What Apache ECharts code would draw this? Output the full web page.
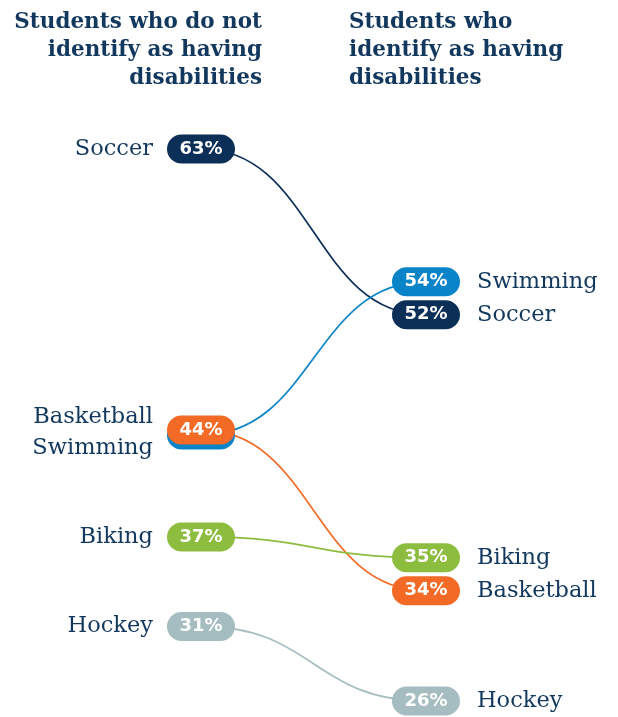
<!DOCTYPE html>
<html>
<head>
<meta charset="utf-8">
<script src="https://cdn.jsdelivr.net/npm/echarts@6/dist/echarts.min.js"></script>
<style>
  html, body { margin: 0; padding: 0; background: #ffffff; }
  #chart { width: 618px; height: 717px; }
</style>
</head>
<body>
<div id="chart"></div>
<script>
// Share of students taking part in each sport, by disability status (%)
const sports = ['Soccer', 'Basketball', 'Swimming', 'Biking', 'Hockey'];
const withoutDisability = [63, 44, 44, 37, 31];
const withDisability = [52, 34, 54, 35, 26];
const columnTitles = [
  'Students who do not\nidentify as having\ndisabilities',
  'Students who\nidentify as having\ndisabilities'
];

const sportColors = {
  Soccer: '#0c2f57',
  Swimming: '#0a84c8',
  Basketball: '#f26a25',
  Biking: '#8dbd3f',
  Hockey: '#a5bdc1'
};
const TEXT_COLOR = '#12385e';
const LABEL_FONT = '"DejaVu Serif", serif';
const PILL_FONT = '"DejaVu Sans", sans-serif';
const PILL_W = 68, PILL_H = 29, MIN_GAP = 33, TIE_SHIFT = 5;

// Place one column of nodes: tied values share a node, crowded nodes are pushed apart.
function layoutColumn(values, api, xVal) {
  const groups = [];
  values.forEach((v, i) => {
    let g = groups.find(q => q.value === v);
    if (!g) {
      const c = api.coord([xVal, v]);
      g = { value: v, members: [], x: c[0], y: c[1] };
      groups.push(g);
    }
    g.members.push(i);
  });
  groups.sort((a, b) => a.y - b.y);
  for (let iter = 0; iter < 30; iter++) {
    let moved = false;
    for (let k = 1; k < groups.length; k++) {
      const a = groups[k - 1], b = groups[k];
      const gap = b.y - a.y;
      if (gap < MIN_GAP - 0.01) {
        const d = (MIN_GAP - gap) / 2;
        a.y -= d; b.y += d; moved = true;
      }
    }
    if (!moved) break;
  }
  const pos = [];
  groups.forEach(g => {
    const n = g.members.length;
    g.members.forEach((m, j) => {
      pos[m] = { x: g.x, y: g.y + (j - (n - 1) / 2) * TIE_SHIFT, rank: j, group: g };
    });
  });
  return pos;
}

function columns(api) {
  return {
    left: layoutColumn(withoutDisability, api, 0),
    right: layoutColumn(withDisability, api, 1)
  };
}

function renderLink(params, api) {
  const i = params.dataIndex;
  const cols = columns(api);
  const a = cols.left[i], b = cols.right[i];
  const mx = (a.x + b.x) / 2;
  return {
    type: 'bezierCurve',
    shape: { x1: a.x, y1: a.y, x2: b.x, y2: b.y, cpx1: mx, cpy1: a.y, cpx2: mx, cpy2: b.y },
    style: { stroke: sportColors[sports[i]], lineWidth: 1.7, fill: null }
  };
}

// A rounded value badge; stacked badges of tied values sit behind the first one.
function pill(p, color, value) {
  const el = {
    type: 'rect',
    z2: 20 - p.rank * 10,
    shape: { x: p.x - PILL_W / 2, y: p.y - PILL_H / 2, width: PILL_W, height: PILL_H, r: PILL_H / 2 },
    style: { fill: color }
  };
  if (p.rank === 0) {
    el.textContent = {
      style: { text: value + '%', fill: '#ffffff', font: 'bold 18px ' + PILL_FONT },
      z2: 21
    };
    el.textConfig = { position: 'inside' };
  }
  return el;
}

function sideLabel(p, side) {
  const names = p.group.members.map(m => sports[m]).join('\n');
  return {
    type: 'text',
    x: side === 'left' ? p.x - PILL_W / 2 - 14 : p.x + PILL_W / 2 + 17,
    y: p.group.y,
    style: {
      text: names,
      fill: TEXT_COLOR,
      font: '22.5px ' + LABEL_FONT,
      lineHeight: 31,
      align: side === 'left' ? 'right' : 'left',
      verticalAlign: 'middle'
    }
  };
}

function renderNode(params, api) {
  const i = params.dataIndex;
  const cols = columns(api);
  const color = sportColors[sports[i]];
  const a = cols.left[i], b = cols.right[i];
  const children = [pill(a, color, withoutDisability[i]), pill(b, color, withDisability[i])];
  if (a.rank === 0) children.push(sideLabel(a, 'left'));
  if (b.rank === 0) children.push(sideLabel(b, 'right'));
  return { type: 'group', children };
}

const seriesData = sports.map((s, i) => ({ name: s, value: [withoutDisability[i], withDisability[i]] }));

const chart = echarts.init(document.getElementById('chart'), null, { renderer: 'canvas' });
chart.setOption({
  animation: false,
  backgroundColor: '#ffffff',
  grid: { left: 201, right: 192, top: 149, bottom: 16 },
  xAxis: { type: 'value', min: 0, max: 1, show: false },
  yAxis: { type: 'value', min: 26, max: 63, show: false },
  graphic: [
    {
      type: 'text', x: 262, y: 8,
      style: { text: columnTitles[0], fill: TEXT_COLOR, font: 'bold 21.5px ' + LABEL_FONT, lineHeight: 28, align: 'right' }
    },
    {
      type: 'text', x: 349, y: 8,
      style: { text: columnTitles[1], fill: TEXT_COLOR, font: 'bold 21.5px ' + LABEL_FONT, lineHeight: 28, align: 'left' }
    }
  ],
  series: [
    {
      type: 'custom', name: 'links', z: 1, silent: true,
      encode: { y: [0, 1] },
      data: seriesData,
      renderItem: renderLink
    },
    {
      type: 'custom', name: 'nodes', z: 2, silent: true,
      encode: { y: [0, 1] },
      data: seriesData,
      renderItem: renderNode
    }
  ]
});
</script>
</body>
</html>
